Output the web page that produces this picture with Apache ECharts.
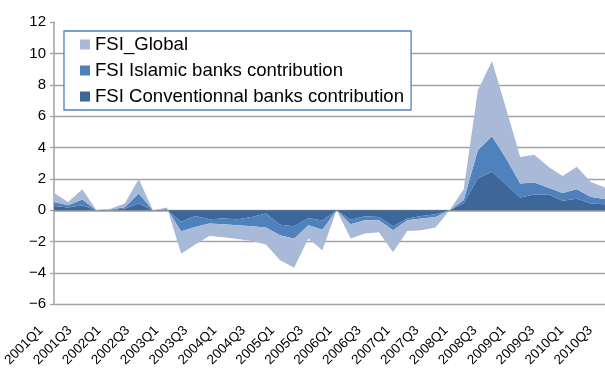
<!DOCTYPE html>
<html>
<head>
<meta charset="utf-8">
<script src="https://cdn.jsdelivr.net/npm/echarts@6/dist/echarts.min.js"></script>
<style>
  html, body { margin: 0; padding: 0; background: #ffffff; }
  #chart { width: 605px; height: 374px; }
</style>
</head>
<body>
<div id="chart"></div>
<script>
// Quarterly categories
const quarters = [
  '2001Q1','2001Q2','2001Q3','2001Q4','2002Q1','2002Q2','2002Q3','2002Q4',
  '2003Q1','2003Q2','2003Q3','2003Q4','2004Q1','2004Q2','2004Q3','2004Q4',
  '2005Q1','2005Q2','2005Q3','2005Q4','2006Q1','2006Q2','2006Q3','2006Q4',
  '2007Q1','2007Q2','2007Q3','2007Q4','2008Q1','2008Q2','2008Q3','2008Q4',
  '2009Q1','2009Q2','2009Q3','2009Q4','2010Q1','2010Q2','2010Q3','2010Q4'
];

// Contribution of conventional banks to the stress index
const conventional = [
  0.28, 0.17, 0.32, 0.00, 0.03, 0.10, 0.43, 0.00,
  0.04, -0.74, -0.36, -0.57, -0.53, -0.57, -0.43, -0.21,
  -0.92, -1.02, -0.49, -0.65, 0.00, -0.60, -0.38, -0.43,
  -1.02, -0.53, -0.36, -0.26, 0.00, 0.45, 2.02, 2.45,
  1.65, 0.81, 1.00, 1.00, 0.60, 0.74, 0.43, 0.38
];

// Contribution of Islamic banks to the stress index
const islamic = [
  0.25, 0.15, 0.36, 0.00, 0.02, 0.10, 0.64, 0.00,
  0.04, -0.60, -0.70, -0.28, -0.36, -0.39, -0.59, -0.89,
  -0.68, -0.79, -0.47, -0.60, 0.00, -0.30, -0.26, -0.21,
  -0.26, -0.11, -0.17, -0.17, 0.00, 0.20, 1.81, 2.27,
  1.65, 0.89, 0.77, 0.43, 0.50, 0.60, 0.42, 0.34
];

// Global financial stress index
const global = [
  0.57, 0.20, 0.66, 0.02, 0.05, 0.23, 0.93, 0.00,
  0.09, -1.43, -1.13, -0.79, -0.83, -0.87, -0.94, -1.09,
  -1.59, -1.85, -0.84, -1.30, 0.00, -0.90, -0.85, -0.76,
  -1.40, -0.69, -0.75, -0.67, 0.00, 0.69, 3.83, 4.81,
  3.20, 1.70, 1.78, 1.34, 1.09, 1.43, 0.96, 0.73
];

const yTicks = { min: -6, max: 12, step: 2 };

const colors = {
  global: '#a9bad8',
  islamic: '#4f81bd',
  conventional: '#3d6699'
};

const font = 'Liberation Sans, Arial, sans-serif';
const grey = '#a3a3a3';

function areaSeries(name, data, color) {
  return {
    name: name,
    type: 'line',
    stack: 'fsi',
    stackStrategy: 'all',
    xAxisIndex: 0,
    yAxisIndex: 0,
    data: data,
    symbol: 'none',
    lineStyle: { width: 0 },
    areaStyle: { color: color, opacity: 1 },
    itemStyle: { color: color },
    emphasis: { disabled: true },
    silent: true
  };
}

const chart = echarts.init(document.getElementById('chart'), null, { renderer: 'canvas' });

chart.setOption({
  animation: false,
  backgroundColor: '#ffffff',
  textStyle: { fontFamily: font },
  grid: [
    // plotting area
    { left: 54, right: -2.4, top: 22.2, bottom: 69.7, containLabel: false },
    // carries the rotated quarter labels
    { left: 39, right: -6.7, top: 22.2, bottom: 69.7, containLabel: false }
  ],
  legend: {
    orient: 'vertical',
    left: 64,
    top: 31,
    padding: [4, 7, 4, 16],
    itemGap: 7,
    itemWidth: 10,
    itemHeight: 10,
    icon: 'rect',
    backgroundColor: '#ffffff',
    borderColor: '#4f81bd',
    borderWidth: 1.3,
    textStyle: { fontFamily: font, fontSize: 18.6, color: '#000000', lineHeight: 18.5 },
    data: ['FSI_Global', 'FSI Islamic banks contribution', 'FSI Conventionnal banks contribution']
  },
  xAxis: [
    {
      type: 'category',
      gridIndex: 0,
      data: quarters,
      boundaryGap: false,
      axisLine: { show: true, lineStyle: { color: grey, width: 1.5 } },
      axisTick: { show: false },
      axisLabel: { show: false },
      splitLine: { show: false }
    },
    {
      type: 'category',
      gridIndex: 1,
      data: quarters,
      boundaryGap: false,
      axisLine: { show: false },
      axisTick: { show: false },
      splitLine: { show: false },
      axisLabel: {
        show: true,
        interval: 1,
        rotate: 45,
        margin: 24,
        fontFamily: font,
        fontSize: 13.5,
        color: '#000000'
      }
    }
  ],
  yAxis: [
    {
      type: 'value',
      gridIndex: 0,
      min: yTicks.min,
      max: yTicks.max,
      interval: yTicks.step,
      axisLine: { show: true, lineStyle: { color: grey, width: 1.5 } },
      axisTick: { show: true, length: 4, lineStyle: { color: grey, width: 1.3 } },
      axisLabel: {
        margin: 8,
        fontFamily: font,
        fontSize: 15,
        color: '#000000',
        formatter: function (v) { return v < 0 ? '\u2212' + Math.abs(v) : String(v); }
      },
      splitLine: { show: true, showMaxLine: false, lineStyle: { color: grey, width: 1.3 } }
    },
    {
      type: 'value',
      gridIndex: 1,
      show: false,
      min: yTicks.min,
      max: yTicks.max
    }
  ],
  series: [
    areaSeries('FSI Conventionnal banks contribution', conventional, colors.conventional),
    areaSeries('FSI Islamic banks contribution', islamic, colors.islamic),
    areaSeries('FSI_Global', global, colors.global)
  ]
});
</script>
</body>
</html>
